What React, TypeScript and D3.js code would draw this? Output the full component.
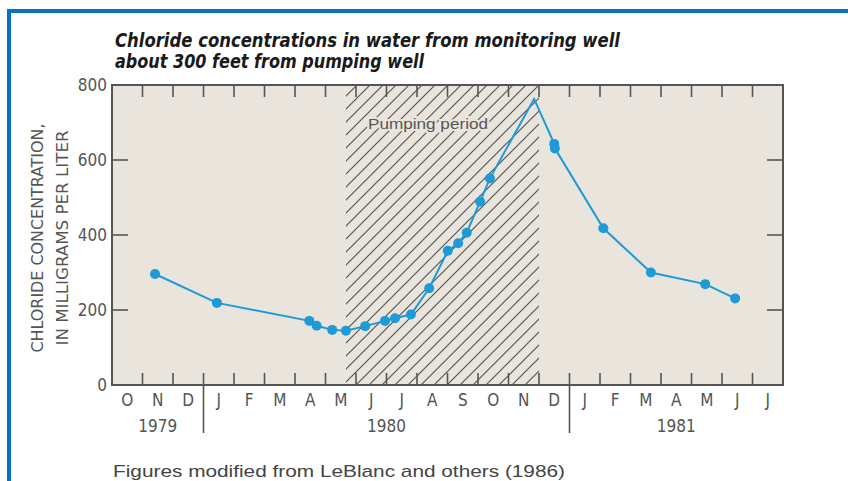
import React from 'react';
import * as d3 from 'd3';

const monthLabels = ['O', 'N', 'D', 'J', 'F', 'M', 'A', 'M', 'J', 'J', 'A', 'S', 'O', 'N', 'D', 'J', 'F', 'M', 'A', 'M', 'J', 'J'];
const yearLabels = ['1979', '1980', '1981'];
const yearStart = [0, 3, 15];
const yearEnd = [3, 15, 22];
const yTicks = [0, 200, 400, 600, 800];

// month index: 0 = 1 Oct 1979
const sampleMonth = [1.41, 3.44, 6.47, 6.71, 7.22, 7.67, 8.3, 8.95, 9.28, 9.8, 10.4, 11.01, 11.35, 11.63, 12.07, 12.39, 13.84, 14.5, 14.52, 16.11, 17.67, 19.45, 20.43];
const chloride = [296, 219, 171, 158, 147, 145, 157, 171, 178, 188, 258, 358, 378, 406, 489, 551, 763, 643, 631, 418, 300, 269, 231];
const marked = [1, 1, 1, 1, 1, 1, 1, 1, 1, 1, 1, 1, 1, 1, 1, 1, 0, 1, 1, 1, 1, 1, 1];
const pumpingStart = 7.67;
const pumpingEnd = 14;

const titleLines = ['Chloride concentrations in water from monitoring well', 'about 300 feet from pumping well'];
const yTitleLines = ['CHLORIDE CONCENTRATION,', 'IN MILLIGRAMS PER LITER'];
const footnote = 'Figures modified from LeBlanc and others (1986)';

const NARROW = "'Liberation Sans Narrow', 'DejaVu Sans Condensed', 'Arial Narrow', sans-serif";
const SANS = "'Liberation Sans', Arial, Helvetica, sans-serif";

export default function App() {
  const left = 112, right = 783, top = 85, bottom = 385;
  const x = d3.scaleLinear().domain([0, 22]).range([left, right]);
  const y = d3.scaleLinear().domain([0, 800]).range([bottom, top]);
  const pts = sampleMonth.map((m, i) => ({ m, v: chloride[i], mk: marked[i] }));
  const line = d3.line<any>().x(d => x(d.m)).y(d => y(d.v));
  const boundaries = d3.range(1, 22);
  const innerY = yTicks.filter(t => t > 0 && t < 800);
  const s = 13;
  const axisCol = '#555';
  const blue = '#1e9ad6';
  const bg = '#e9e5dc';

  return (
    <svg width={848} height={481} style={{ position: 'absolute', left: 0, top: 0, background: '#fff' }}>
      <defs>
        <pattern id="hatch" patternUnits="userSpaceOnUse" width={s} height={s}>
          <path d={`M0,${s} L${s},0 M-1,1 L1,-1 M${s - 1},${s + 1} L${s + 1},${s - 1}`} stroke="#555" strokeWidth={1.2} />
        </pattern>
      </defs>
      {/* blue frame */}
      <line x1={7} x2={848} y1={11} y2={11} stroke="#0a72c4" strokeWidth={4} />
      <line x1={9} x2={9} y1={9} y2={481} stroke="#0a72c4" strokeWidth={4} />

      {/* title */}
      {titleLines.map((t, i) => (
        <text key={i} x={115} y={47 + i * 21} fontFamily={NARROW} fontWeight="bold" fontStyle="italic" fontSize={19} fill="#1a1a1a"
          textLength={i === 0 ? 505 : 309} lengthAdjust="spacingAndGlyphs">{t}</text>
      ))}

      {/* plot background */}
      <rect x={left} y={top} width={right - left} height={bottom - top} fill={bg} />
      <rect x={x(pumpingStart)} y={top} width={x(pumpingEnd) - x(pumpingStart)} height={bottom - top} fill="url(#hatch)" />
      <text x={428} y={129} textAnchor="middle" fontFamily={SANS} fontSize={15} fill="#555"
        stroke={bg} strokeWidth={4} paintOrder="stroke" textLength={120} lengthAdjust="spacingAndGlyphs">Pumping period</text>

      {/* ticks */}
      {boundaries.map(b => (
        <g key={b} stroke={axisCol} strokeWidth={1.6}>
          <line x1={x(b)} x2={x(b)} y1={top} y2={top + 12} />
          <line x1={x(b)} x2={x(b)} y1={bottom} y2={bottom - 12} />
        </g>
      ))}
      {innerY.map(t => (
        <g key={t} stroke={axisCol} strokeWidth={1.6}>
          <line x1={left} x2={left + 16} y1={y(t)} y2={y(t)} />
          <line x1={right} x2={right - 16} y1={y(t)} y2={y(t)} />
        </g>
      ))}
      <rect x={left} y={top} width={right - left} height={bottom - top} fill="none" stroke={axisCol} strokeWidth={2} />

      {/* y labels */}
      {yTicks.map(t => (
        <text key={t} x={107} y={y(t) + 6} textAnchor="end" fontFamily={NARROW} fontSize={17} fill={axisCol}>{t}</text>
      ))}
      {yTitleLines.map((t, i) => (
        <text key={i} transform={`translate(${43 + i * 25},238) rotate(-90)`} textAnchor="middle" fontFamily={NARROW} fontSize={16} fill={axisCol}
          textLength={i === 0 ? 229 : 215} lengthAdjust="spacingAndGlyphs">{t}</text>
      ))}

      {/* x labels */}
      {monthLabels.map((m, i) => (
        <text key={i} x={x(i + 0.5)} y={406} textAnchor="middle" fontFamily={NARROW} fontSize={17} fill={axisCol}>{m}</text>
      ))}
      {yearStart.filter(v => v > 0).map(v => (
        <line key={v} x1={x(v)} x2={x(v)} y1={bottom} y2={433} stroke={axisCol} strokeWidth={1.6} />
      ))}
      {yearLabels.map((l, i) => (
        <text key={l} x={x((yearStart[i] + yearEnd[i]) / 2)} y={432} textAnchor="middle" fontFamily={NARROW} fontSize={17} fill={axisCol}>{l}</text>
      ))}

      {/* data */}
      <path d={line(pts) || ''} fill="none" stroke={blue} strokeWidth={2} />
      {pts.filter(p => p.mk).map((p, i) => (
        <circle key={i} cx={x(p.m)} cy={y(p.v)} r={5} fill={blue} />
      ))}

      {/* footnote */}
      <text x={113} y={477} fontFamily={SANS} fontSize={17} fill="#444" textLength={452} lengthAdjust="spacingAndGlyphs">{footnote}</text>
    </svg>
  );
}
